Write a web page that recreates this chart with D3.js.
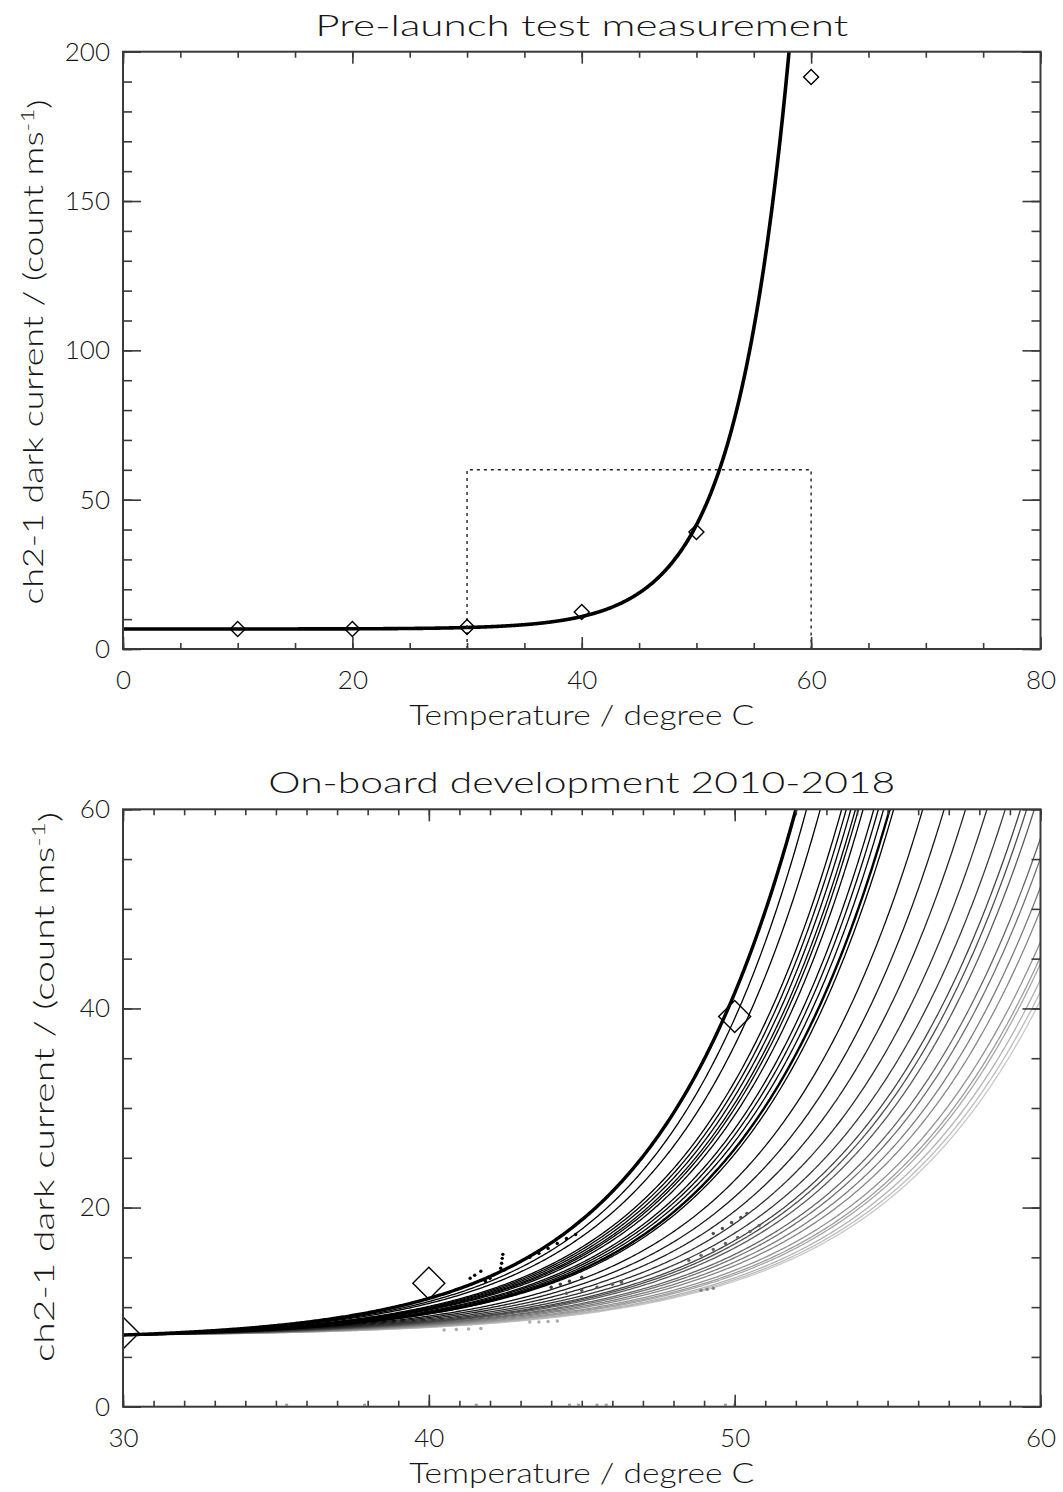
<!DOCTYPE html>
<html>
<head>
<meta charset="utf-8">
<script src="https://cdn.jsdelivr.net/npm/d3@7"></script>
<style>
  body { margin: 0; background: #fff; }
  text { font-family: Lato, "DejaVu Sans", sans-serif; font-weight: 300; fill: #151515; }
</style>
</head>
<body>
<svg id="chart" width="1063" height="1492"></svg>
<script>
// ---------------------------------------------------------------------------
// Pre-launch test measurement: temperature (degree C) vs ch2-1 dark current
const prelaunchTemp = [10, 20, 30, 40, 50, 60];
const prelaunchDark = [6.7, 6.7, 7.4, 12.4, 39.2, 191.5];

// Exponential fit to the pre-launch data: dark = offset + amp * exp(rate * (T - 30))
const prelaunchFitOffset = 6.7;
const prelaunchFitAmp = 0.5;
const prelaunchFitRate = 0.2122;

// On-board fits 2010-2018, oldest first. Every fit shares the dark current at 30 C
// and is pinned by the point where it leaves the 30-60 C / 0-60 window.
const onboardBaseDark = 7.2;
const onboardExitTemp = [52.35, 52.8, 53.5, 53.65, 53.8, 53.95, 54.05, 54.2, 54.55, 54.7,
                         54.87, 55.07, 55.2, 56.15, 56.85, 57.55, 58.25, 58.85, 59.35, 59.55,
                         59.8, 60, 60, 60, 60, 60, 60, 60, 60, 60, 60];
const onboardExitDark = [60, 60, 60, 60, 60, 60, 60, 60, 60, 60,
                         60, 60, 60, 60, 60, 60, 60, 60, 60, 60,
                         60, 57.1, 55.1, 52.2, 49.9, 46.7, 45.2, 44.5, 42.9, 41.7, 40.8];
const onboardAmp = [0.45, 0.44, 0.42, 0.41, 0.40, 0.39, 0.38, 0.37, 0.36, 0.35,
                    0.34, 0.33, 0.32, 0.31, 0.30, 0.29, 0.28, 0.27, 0.26, 0.25,
                    0.24, 0.23, 0.22, 0.21, 0.20, 0.19, 0.18, 0.17, 0.16, 0.155, 0.15];
const onboardThick = [11];

// Individual on-board readings (temperature, dark current, grey level 0-255)
const readingTemp = [43.3, 43.6, 43.9, 44.2, 44.5, 44.8,
                     42.35, 42.38, 42.4, 42.42,
                     41.35, 41.5, 41.7, 41.85, 42.0,
                     49.3, 49.6, 49.9, 50.2, 50.4,
                     48.5, 48.9, 49.3, 49.7, 50.1, 50.5, 50.8,
                     44.0, 44.3, 44.6, 45.0,
                     44.5, 45.0, 45.5, 46.0, 46.3,
                     43.3, 43.6, 43.9, 44.2,
                     40.5, 40.9, 41.3, 41.7,
                     48.9, 49.1, 49.3];
const readingDark = [15.0, 15.4, 15.9, 16.4, 16.9, 17.3,
                     13.9, 14.4, 14.9, 15.3,
                     12.9, 13.2, 13.6, 12.6, 12.9,
                     17.4, 17.9, 18.5, 19.0, 19.4,
                     14.7, 15.2, 15.8, 16.4, 17.0, 17.6, 18.2,
                     12.0, 12.3, 12.6, 13.0,
                     11.4, 11.7, 12.0, 12.3, 12.5,
                     8.5, 8.5, 8.55, 8.6,
                     7.7, 7.75, 7.8, 7.85,
                     11.7, 11.8, 11.9];
const readingGrey = [0, 0, 0, 0, 0, 0,
                     0, 0, 0, 0,
                     0, 0, 0, 0, 0,
                     80, 80, 80, 80, 80,
                     100, 100, 100, 100, 100, 100, 100,
                     60, 60, 60, 60,
                     90, 90, 90, 90, 90,
                     170, 170, 170, 170,
                     170, 170, 170, 170,
                     130, 130, 130];
// Readings that dropped to zero
const zeroReadingTemp = [35.35, 37.9, 41.55, 44.6, 44.9, 45.5, 45.8, 49.7, 50.0];

// Axis ticks
const topXMajor = [0, 20, 40, 60, 80];
const topYMajor = [0, 50, 100, 150, 200];
const botXMajor = [30, 40, 50, 60];
const botYMajor = [0, 20, 40, 60];

const titleTop = "Pre-launch test measurement";
const titleBottom = "On-board development 2010-2018";
const xTitle = "Temperature / degree C";
// ---------------------------------------------------------------------------

const svg = d3.select("#chart");
const frameColor = "#3a3a3a";

const L = 123, R = 1040.5;
const panels = {
  top: { t: 51.7, b: 649 },
  bot: { t: 809.3, b: 1406.7 }
};

function fitCurve(offset, amp, rate) {
  return T => offset + amp * Math.exp(rate * (T - 30));
}

function drawFrame(g, x, y, xMajor, xMinor, yMajor, yMinor, w, h) {
  const fmt = d3.format("d");
  const style = sel => {
    sel.select(".domain").remove();
    sel.selectAll(".tick line").attr("stroke", frameColor).attr("stroke-width", 1.6);
    sel.selectAll(".tick text").style("font-size", "26px").attr("fill", "#151515");
  };
  // bottom
  g.append("g").attr("transform", `translate(0,${h})`)
    .call(d3.axisBottom(x).tickValues(xMinor).tickSize(-6).tickFormat("")).call(style);
  g.append("g").attr("transform", `translate(0,${h})`)
    .call(d3.axisBottom(x).tickValues(xMajor).tickSize(-12).tickPadding(22).tickFormat(fmt)).call(style);
  // top
  g.append("g").call(d3.axisTop(x).tickValues(xMinor).tickSize(-6).tickFormat("")).call(style);
  g.append("g").call(d3.axisTop(x).tickValues(xMajor).tickSize(-12).tickFormat("")).call(style);
  // left
  g.append("g").call(d3.axisLeft(y).tickValues(yMinor).tickSize(-9).tickFormat("")).call(style);
  g.append("g").call(d3.axisLeft(y).tickValues(yMajor).tickSize(-18).tickPadding(13).tickFormat(fmt)).call(style);
  // right
  g.append("g").attr("transform", `translate(${w},0)`)
    .call(d3.axisRight(y).tickValues(yMinor).tickSize(-9).tickFormat("")).call(style);
  g.append("g").attr("transform", `translate(${w},0)`)
    .call(d3.axisRight(y).tickValues(yMajor).tickSize(-18).tickFormat("")).call(style);
  // box
  g.append("rect").attr("width", w).attr("height", h)
    .attr("fill", "none").attr("stroke", frameColor).attr("stroke-width", 2);
}

function addTitles(g, w, h, title, titleLen, yTitleX, yTitleCenter, yTitleLen) {
  g.append("text").attr("x", w / 2).attr("y", -16)
    .attr("text-anchor", "middle").style("font-size", "30px")
    .attr("textLength", titleLen).attr("lengthAdjust", "spacingAndGlyphs")
    .text(title);
  g.append("text").attr("x", w / 2).attr("y", h + 76)
    .attr("text-anchor", "middle").style("font-size", "27px")
    .attr("textLength", 345).attr("lengthAdjust", "spacingAndGlyphs")
    .text(xTitle);
  const yt = svg.append("text")
    .attr("transform", `translate(${yTitleX},${yTitleCenter}) rotate(-90)`)
    .attr("text-anchor", "middle").style("font-size", "27px")
    .attr("textLength", yTitleLen).attr("lengthAdjust", "spacingAndGlyphs");
  yt.append("tspan").text("ch2-1 dark current / (count ms");
  yt.append("tspan").attr("dy", "-0.5em").style("font-size", "18px").text("-1");
  yt.append("tspan").attr("dy", "0.5em").text(")");
}

function diamond(g, x, y, temps, vals, half) {
  const side = half * Math.SQRT2;
  g.selectAll(null).data(temps).join("path")
    .attr("d", d3.symbol(d3.symbolSquare, side * side)())
    .attr("transform", (d, i) => `translate(${x(d)},${y(vals[i])}) rotate(45)`)
    .attr("fill", "none").attr("stroke", "#000").attr("stroke-width", 1.4);
}

// ---------------- top panel ----------------
{
  const p = panels.top, w = R - L, h = p.b - p.t;
  const g = svg.append("g").attr("transform", `translate(${L},${p.t})`);
  const x = d3.scaleLinear().domain([0, 80]).range([0, w]);
  const y = d3.scaleLinear().domain([0, 200]).range([h, 0]);

  g.append("clipPath").attr("id", "clipTop").append("rect").attr("width", w).attr("height", h);

  const f = fitCurve(prelaunchFitOffset, prelaunchFitAmp, prelaunchFitRate);
  const ts = d3.range(0, 80.001, 0.05);
  g.append("path").attr("clip-path", "url(#clipTop)")
    .attr("d", d3.line().x(t => x(t)).y(t => y(f(t)))(ts))
    .attr("fill", "none").attr("stroke", "#000").attr("stroke-width", 3.6);

  // window shown in the lower panel
  g.append("path")
    .attr("d", d3.line()([[x(30), y(0)], [x(30), y(60)], [x(60), y(60)], [x(60), y(0)]]))
    .attr("fill", "none").attr("stroke", "#222").attr("stroke-width", 1.4)
    .attr("stroke-dasharray", "3,4");

  diamond(g, x, y, prelaunchTemp, prelaunchDark, 7.5);

  drawFrame(g, x, y, topXMajor, d3.range(0, 80.1, 5), topYMajor, d3.range(0, 200.1, 10), w, h);
  addTitles(g, w, h, titleTop, 533, 43, 352, 505);
}

// ---------------- bottom panel ----------------
{
  const p = panels.bot, w = R - L, h = p.b - p.t;
  const g = svg.append("g").attr("transform", `translate(${L},${p.t})`);
  const x = d3.scaleLinear().domain([30, 60]).range([0, w]);
  const y = d3.scaleLinear().domain([0, 60]).range([h, 0]);

  g.append("clipPath").attr("id", "clipBot").append("rect").attr("width", w).attr("height", h);
  const plot = g.append("g").attr("clip-path", "url(#clipBot)");

  const ts = d3.range(30, 60.001, 0.05);
  const line = f => d3.line().x(t => x(t)).y(t => y(f(t)))(ts);

  // newest fits drawn first so the older, darker ones sit on top
  const n = onboardExitTemp.length;
  const fits = onboardExitTemp.map((te, i) => {
    const amp = onboardAmp[i];
    const offset = onboardBaseDark - amp;
    const rate = Math.log((onboardExitDark[i] - offset) / amp) / (te - 30);
    const grey = i <= 12 ? 0 : Math.round(15 + (i - 13) * (185 / (n - 14)));
    return { f: fitCurve(offset, amp, rate), grey, thick: onboardThick.includes(i) };
  }).reverse();

  plot.selectAll("path.fit").data(fits).join("path")
    .attr("class", "fit")
    .attr("d", d => line(d.f))
    .attr("fill", "none")
    .attr("stroke", d => d3.rgb(d.grey, d.grey, d.grey))
    .attr("stroke-width", d => d.thick ? 2.4 : 1.3);

  // individual readings
  plot.selectAll("circle.reading").data(readingTemp).join("circle")
    .attr("class", "reading")
    .attr("cx", d => x(d))
    .attr("cy", (d, i) => y(readingDark[i]))
    .attr("r", 1.7)
    .attr("fill", (d, i) => d3.rgb(readingGrey[i], readingGrey[i], readingGrey[i]));

  plot.selectAll("rect.zero").data(zeroReadingTemp).join("rect")
    .attr("class", "zero")
    .attr("x", d => x(d) - 1.5).attr("y", y(0) - 3)
    .attr("width", 3).attr("height", 2)
    .attr("fill", "#999");

  // pre-launch fit and measurements
  const f0 = fitCurve(prelaunchFitOffset, prelaunchFitAmp, prelaunchFitRate);
  plot.append("path").attr("d", line(f0))
    .attr("fill", "none").attr("stroke", "#000").attr("stroke-width", 3.4);

  diamond(plot, x, y, prelaunchTemp, prelaunchDark, 16);

  drawFrame(g, x, y, botXMajor, d3.range(30, 60.1, 1), botYMajor, d3.range(0, 60.1, 5), w, h);
  addTitles(g, w, h, titleBottom, 627, 54, 1087, 550);
}
</script>
</body>
</html>
